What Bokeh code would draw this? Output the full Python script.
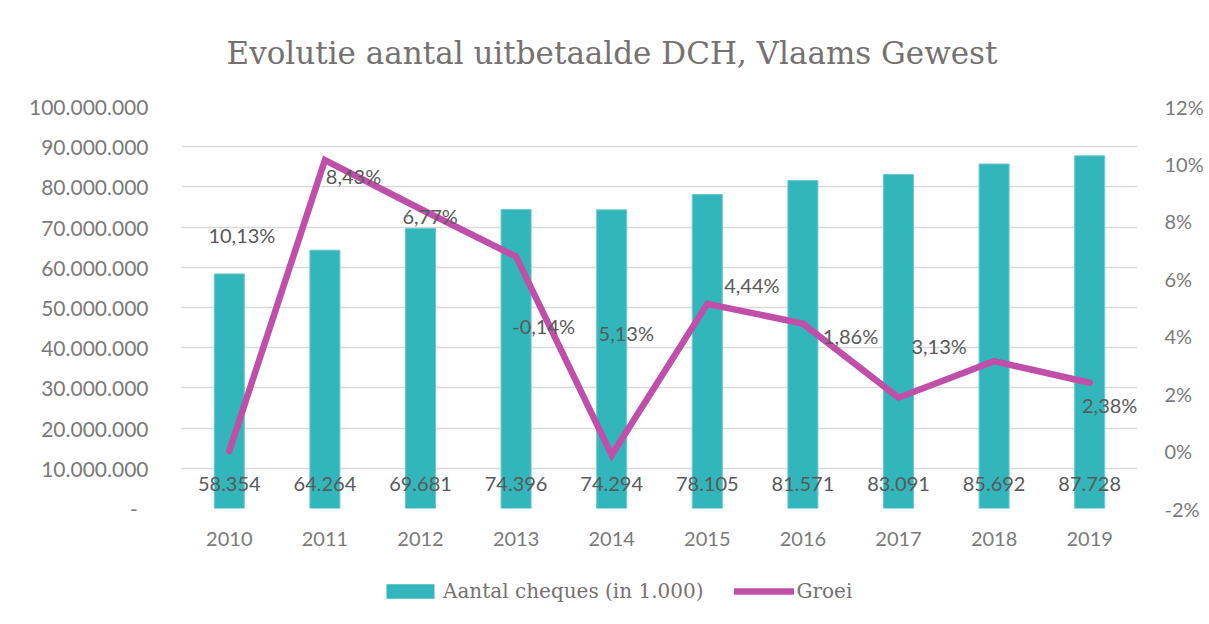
from bokeh.plotting import figure
from bokeh.models import (Range1d, LinearAxis, FixedTicker, CustomJSTickFormatter,
                          ColumnDataSource, Legend, LegendItem, Title)
from bokeh.layouts import column
from bokeh.core.properties import value
from bokeh.embed import file_html
from bokeh.resources import INLINE

# ---------------- data ----------------
years = ["2010", "2011", "2012", "2013", "2014", "2015", "2016", "2017", "2018", "2019"]
cheques_k = [58354, 64264, 69681, 74396, 74294, 78105, 81571, 83091, 85692, 87728]   # in 1.000
groei = [0.0, 10.13, 8.43, 6.77, -0.14, 5.13, 4.44, 1.86, 3.13, 2.38]                 # %
left_ticks = [0, 10e6, 20e6, 30e6, 40e6, 50e6, 60e6, 70e6, 80e6, 90e6, 100e6]
right_ticks = [-2, 0, 2, 4, 6, 8, 10, 12]

# label placement (pixel offsets of the growth labels relative to their point)
lab_dx = [None, -83, -67, -86, -68, -81, -51, -48, -55, 20]
lab_dy = [None, 75, -33, -41, -129, 29, -39, -62, -15, 22]

SANS = "Lato"
SERIF = "DejaVu Serif"
TICK_COL = "#7a7a7a"
LAB_COL = "#595959"
BAR_COL = "#32B6BC"
BAR_EDGE = "#6cc9ce"
LINE_COL = "#BF4FA8"

p = figure(width=1209, height=574, x_range=years, y_range=Range1d(0, 100e6),
           output_backend="svg", toolbar_location=None, tools="",
           min_border_left=181, min_border_right=72, min_border_top=106, min_border_bottom=66)
p.extra_y_ranges = {"pct": Range1d(-2, 12)}
p.outline_line_color = None
p.background_fill_color = "white"
p.border_fill_color = "white"

# grid
p.xgrid.grid_line_color = None
p.ygrid.grid_line_color = "#D9D9D9"
p.ygrid.grid_line_width = 1.6

# left axis
ya = p.yaxis[0]
ya.ticker = FixedTicker(ticks=left_ticks)
ya.formatter = CustomJSTickFormatter(code="""
if (tick == 0) { return "-\u00a0\u00a0"; }
return String(Math.round(tick)).replace(/\\B(?=(\\d{3})+(?!\\d))/g, ".");
""")
ya.axis_line_color = None
ya.major_tick_line_color = None
ya.minor_tick_line_color = None
ya.major_label_text_font = SANS
ya.major_label_text_font_size = "21px"
ya.major_label_text_color = TICK_COL
ya.major_label_standoff = 27

# right axis
ra = LinearAxis(y_range_name="pct", ticker=FixedTicker(ticks=right_ticks),
                formatter=CustomJSTickFormatter(code='return Math.round(tick) + "%";'))
ra.axis_line_color = None
ra.major_tick_line_color = None
ra.minor_tick_line_color = None
ra.major_label_text_font = SANS
ra.major_label_text_font_size = "20px"
ra.major_label_text_color = TICK_COL
ra.major_label_standoff = 21
p.add_layout(ra, "right")

# x axis
xa = p.xaxis[0]
xa.axis_line_color = None
xa.major_tick_line_color = None
xa.minor_tick_line_color = None
xa.major_label_text_font = SANS
xa.major_label_text_font_size = "20px"
xa.major_label_text_color = TICK_COL
xa.major_label_standoff = 17

# bars
bars_src = ColumnDataSource(dict(
    x=years,
    top=[v * 1000 for v in cheques_k],
    lab=[f"{v:,}".replace(",", ".") for v in cheques_k],
    y0=[0] * len(years),
))
p.vbar(x="x", top="top", width=0.314, source=bars_src,
       fill_color=BAR_COL, line_color=BAR_EDGE, line_width=1)
p.text(x="x", y="y0", text="lab", source=bars_src, y_offset=-25,
       text_align="center", text_baseline="middle",
       text_font=value(SANS), text_font_size="20px", text_color=LAB_COL)

# growth line
p.line(x=years, y=groei, y_range_name="pct", line_color=LINE_COL,
       line_width=6.5, line_cap="round", line_join="miter")

idx = [i for i in range(len(years)) if lab_dx[i] is not None]
glab_src = ColumnDataSource(dict(
    x=[years[i] for i in idx],
    y=[groei[i] for i in idx],
    t=[f"{groei[i]:.2f}%".replace(".", ",") for i in idx],
    dx=[lab_dx[i] for i in idx],
    dy=[lab_dy[i] for i in idx],
))
p.text(x="x", y="y", text="t", x_offset="dx", y_offset="dy", source=glab_src,
       y_range_name="pct", text_align="center", text_baseline="middle",
       text_font=value(SANS), text_font_size="20px", text_color=LAB_COL)

# title
title = Title(text="Evolutie aantal uitbetaalde DCH, Vlaams Gewest", align="left", offset=45,
              standoff=68, vertical_align="top", text_font=SERIF, text_font_size="31px",
              text_font_style="normal", text_color="#767171")
p.add_layout(title, "above")

# legend strip (separate small figure below the chart); its renderers lie far
# outside its (empty) view, they only provide the legend swatches
pl = figure(width=1209, height=50, x_range=years, y_range=Range1d(-1e12, -1e12 + 1),
            x_axis_type=None, y_axis_type=None, output_backend="svg",
            toolbar_location=None, tools="", min_border=0)
pl.outline_line_color = None
pl.xgrid.visible = False
pl.ygrid.visible = False
leg_bar = pl.vbar(x=years, top=cheques_k, width=0.0, fill_color=BAR_COL, line_color=None)
leg_line = pl.line(x=years, y=groei, line_color=LINE_COL, line_width=6.5, line_cap="round")
legend = Legend(items=[LegendItem(label="Aantal cheques (in 1.000)", renderers=[leg_bar]),
                       LegendItem(label="Groei", renderers=[leg_line])],
                location=(199, 21), orientation="horizontal",
                glyph_width=60, glyph_height=18, label_standoff=3, spacing=30,
                padding=0, margin=0, border_line_color=None, background_fill_alpha=0,
                label_text_font=SERIF, label_text_font_size="20px",
                label_text_color="#767171", label_height=20)
pl.add_layout(legend, "center")

open("out.html", "w").write(file_html(column(p, pl, spacing=0), INLINE))
